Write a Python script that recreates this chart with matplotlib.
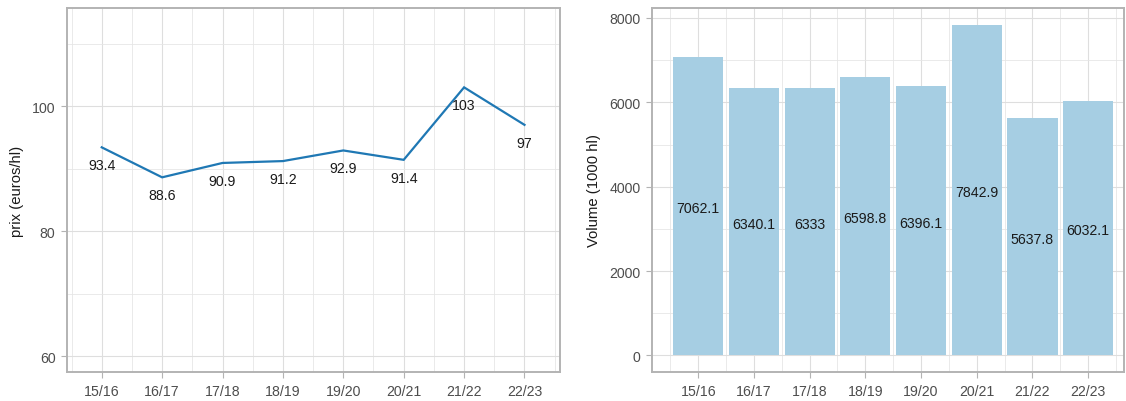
import matplotlib
matplotlib.use("Agg")
import matplotlib.pyplot as plt
from matplotlib.ticker import FixedLocator

plt.rcParams["font.family"] = ["Liberation Sans", "DejaVu Sans"]

seasons = ["15/16", "16/17", "17/18", "18/19", "19/20", "20/21", "21/22", "22/23"]
prix = [93.4, 88.6, 90.9, 91.2, 92.9, 91.4, 103, 97]
volume = [7062.1, 6340.1, 6333, 6598.8, 6396.1, 7842.9, 5637.8, 6032.1]

BORDER = "#b3b3b3"
GRID_MAJ = "#dedede"
GRID_MIN = "#e6e6e6"
TICK_TXT = "#4d4d4d"


def style(ax, yticks, yminor):
    x = list(range(len(seasons)))
    ax.set_xticks(x)
    ax.set_xticklabels(seasons)
    ax.xaxis.set_minor_locator(FixedLocator([i - 0.5 for i in range(len(seasons) + 1)]))
    ax.set_yticks(yticks)
    ax.yaxis.set_minor_locator(FixedLocator(yminor))
    ax.grid(True, which="major", color=GRID_MAJ, linewidth=0.8)
    ax.grid(True, which="minor", color=GRID_MIN, linewidth=0.6)
    ax.set_axisbelow(True)
    for s in ax.spines.values():
        s.set_color(BORDER)
        s.set_linewidth(1.4)
    ax.tick_params(which="major", length=4.3, width=0.8, color=BORDER,
                   labelcolor=TICK_TXT, labelsize=10.2, pad=4)
    ax.tick_params(which="minor", length=0)


fig = plt.figure(figsize=(11.26, 4.02), dpi=100)
ax1 = fig.add_axes([0.0595, 0.0721, 0.4374, 0.9055])
ax2 = fig.add_axes([0.579, 0.0721, 0.4196, 0.9055])

# prix
xs = list(range(len(seasons)))
ax1.plot(xs, prix, color="#1f78b4", linewidth=1.6, solid_joinstyle="miter")
for x, v in zip(xs, prix):
    ax1.annotate(f"{v:g}", xy=(x, v), xytext=(0, -18), textcoords="offset pixels",
                 ha="center", va="center", fontsize=10.2, color="#1a1a1a")
style(ax1, [60, 80, 100], [70, 90, 110])
ax1.set_xlim(-0.575, 7.58)
ax1.set_ylim(57.44, 115.7)
ax1.set_ylabel("prix (euros/hl)", fontsize=10.7, color="#1a1a1a", labelpad=6)

# volume
ax2.bar(xs, volume, width=0.9, color="#a6cee3")
for x, v in zip(xs, volume):
    ax2.annotate(f"{v:g}", xy=(x, v / 2), xytext=(0, -2), textcoords="offset pixels",
                 ha="center", va="center", fontsize=10.2, color="#1a1a1a")
style(ax2, [0, 2000, 4000, 6000, 8000], [1000, 3000, 5000, 7000])
ax2.set_xlim(-0.83, 7.65)
ax2.set_ylim(-392, 8235)
ax2.set_ylabel("Volume (1000 hl)", fontsize=10.7, color="#1a1a1a", labelpad=6)

fig.savefig("out.png", dpi=100)
